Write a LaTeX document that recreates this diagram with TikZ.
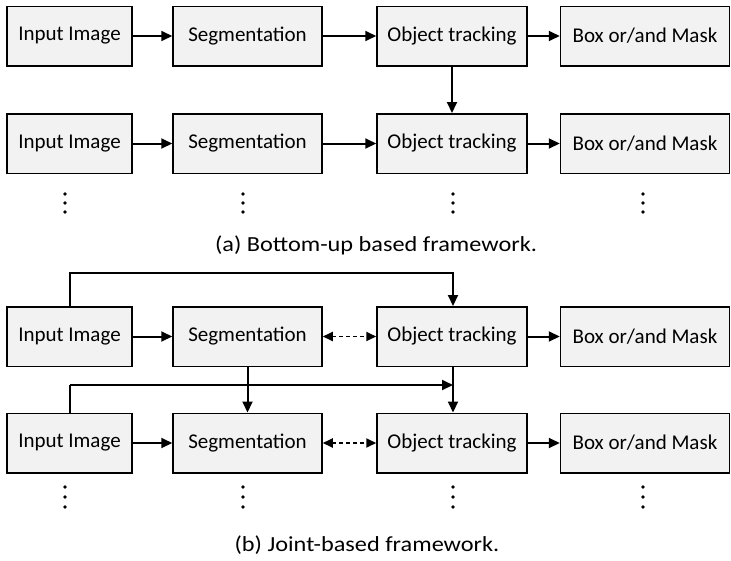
\documentclass[tikz,border=0pt]{standalone}
\usepackage{fontspec}
\setmainfont{Carlito}
\newfontfamily\capfont[FakeStretch=1.13]{Carlito}
\usetikzlibrary{arrows.meta}
\definecolor{boxfill}{HTML}{F2F2F2}
\tikzset{
  blk/.style={draw=black, line width=1.5pt, fill=boxfill, inner sep=0pt, minimum height=59.5pt, font=\fontsize{21}{24}\selectfont},
  w1/.style={minimum width=125pt},
  w2/.style={minimum width=149pt},
  w3/.style={minimum width=150pt},
  w4/.style={minimum width=169pt},
  conn/.style={line width=2pt, -{Triangle[length=11pt,width=10pt]}},
  dconn/.style={line width=1.8pt, dash pattern=on 4pt off 3pt, {Triangle[length=10pt,width=9pt]}-{Triangle[length=10pt,width=9pt]}},
  plain/.style={line width=2pt},
  dotc/.style={fill=black, circle, inner sep=0pt, minimum size=3.6pt},
  captext/.style={font=\capfont\fontsize{21.5}{24}\selectfont}
}
\begin{document}
\begin{tikzpicture}[x=1pt,y=-1pt]
\useasboundingbox (0,0) rectangle (731,560);
% (a)
\node[blk,w1] (ia1) at (69.5,36) {Input Image};
\node[blk,w2] (sa1) at (247.5,36) {Segmentation};
\node[blk,w3] (oa1) at (452,36) {Object tracking};
\node[blk,w4] (ba1) at (645,36) {Box or/and Mask};
\node[blk,w1] (ia2) at (69.5,143.5) {Input Image};
\node[blk,w2] (sa2) at (247.5,143.5) {Segmentation};
\node[blk,w3] (oa2) at (452,143.5) {Object tracking};
\node[blk,w4] (ba2) at (645,143.5) {Box or/and Mask};
\draw[conn] (ia1) -- (sa1);
\draw[conn] (sa1) -- (oa1);
\draw[conn] (oa1) -- (ba1);
\draw[conn] (ia2) -- (sa2);
\draw[conn] (sa2) -- (oa2);
\draw[conn] (oa2) -- (ba2);
\draw[conn] (oa1) -- (oa2);
\foreach \x/\n in {65/a1,243/a2,453/a3,643/a4}{
  \node[dotc] (d\n t) at (\x,194) {};
  \node[dotc] (d\n m) at (\x,203) {};
  \node[dotc] (d\n b) at (\x,212) {};
}
\node[captext] (capa) at (376,245) {(a) Bottom-up based framework.};
% (b)
\node[blk,w1] (ib1) at (69.5,336.5) {Input Image};
\node[blk,w2] (sb1) at (247.5,336.5) {Segmentation};
\node[blk,w3] (ob1) at (452,336.5) {Object tracking};
\node[blk,w4] (bb1) at (645,336.5) {Box or/and Mask};
\node[blk,w1] (ib2) at (69.5,443) {Input Image};
\node[blk,w2] (sb2) at (247.5,443) {Segmentation};
\node[blk,w3] (ob2) at (452,443) {Object tracking};
\node[blk,w4] (bb2) at (645,443) {Box or/and Mask};
\coordinate (t1) at (70,273);
\coordinate (t2) at (453,273);
\coordinate (m1) at (70,385);
\coordinate (m2) at (453,385);
\draw[conn] (ib1.north -| t1) -- (t1) -- (t2) -- (ob1.north -| t2);
\draw[conn] (ib1) -- (sb1);
\draw[dconn] (sb1) -- (ob1);
\draw[conn] (ob1) -- (bb1);
\draw[conn] (sb1) -- (sb2);
\draw[conn] (ob1.south -| m2) -- (ob2.north -| m2);
\draw[plain] (ib2.north -| m1) -- (m1);
\draw[conn] (m1) -- (m2);
\draw[conn] (ib2) -- (sb2);
\draw[dconn] (sb2) -- (ob2);
\draw[conn] (ob2) -- (bb2);
\foreach \x/\n in {65/b1,243/b2,453/b3,643/b4}{
  \node[dotc] (d\n t) at (\x,487) {};
  \node[dotc] (d\n m) at (\x,497) {};
  \node[dotc] (d\n b) at (\x,507) {};
}
\node[captext] (capb) at (367,545) {(b) Joint-based framework.};
\end{tikzpicture}
\end{document}
